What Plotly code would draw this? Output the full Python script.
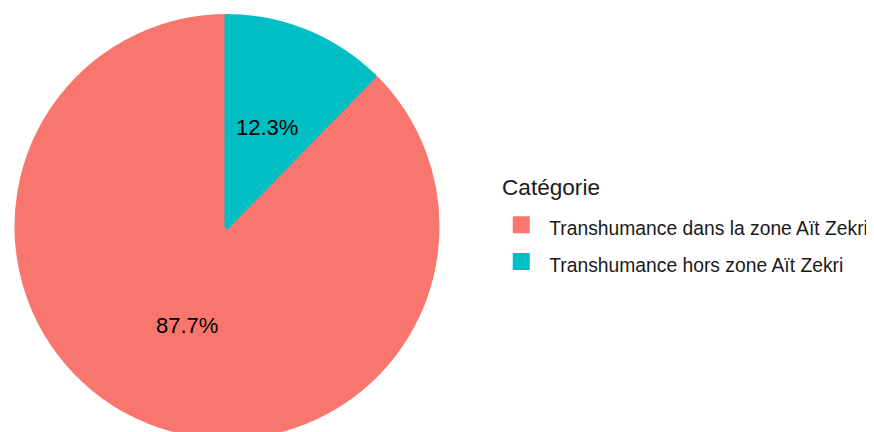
import math
import plotly.graph_objects as go

categories = ["Transhumance dans la zone Aït Zekri", "Transhumance hors zone Aït Zekri"]
values = [87.7, 12.3]
colors = ["#F8766D", "#00BFC4"]
legend_title = "Catégorie"

W, H = 874, 432
top = 5
plot_h = H - top
R = plot_h / 2
cx = 219
inset = 3.5
font = "Liberation Sans, Arial, sans-serif"

total = sum(values)
# first slice runs counterclockwise and ends where the last one starts
rotation = 360 * sum(values[1:]) / total

fig = go.Figure()
fig.add_trace(go.Pie(
    labels=[f'<span style="font-size:19.3px">{c}</span>' for c in categories],
    values=values,
    sort=False,
    direction="counterclockwise",
    rotation=rotation,
    marker=dict(colors=colors, line=dict(color=colors, width=5)),
    textinfo="none",
    hoverinfo="percent",
    domain=dict(x=[(cx - R + inset) / W, (cx + R - inset) / W],
                y=[inset / plot_h, 1 - inset / plot_h]),
))

# percent labels at half radius on each slice's mid angle
start = rotation + 360 * values[0] / total
annotations = []
for v in values:
    frac = v / total
    mid = math.radians(start - 180 * frac)
    start -= 360 * frac
    px = cx + 0.5 * R * math.sin(mid)
    up = 0.5 * R * math.cos(mid)
    annotations.append(dict(
        x=px / W, y=0.5 + up / plot_h, xref="paper", yref="paper",
        xanchor="center", yanchor="middle",
        text=f"{frac * 100:.1f}%", showarrow=False,
        font=dict(size=22, color="black", family=font),
    ))

annotations.append(dict(
    x=0.563, y=0.5925, xref="paper", yref="paper",
    xanchor="left", yanchor="middle", showarrow=False,
    text=legend_title, font=dict(size=22.6, color="#1a1a1a", family=font),
))

fig.update_layout(
    width=W, height=H,
    margin=dict(l=0, r=0, t=top, b=0),
    paper_bgcolor="white",
    plot_bgcolor="white",
    font=dict(family=font),
    annotations=annotations,
    legend=dict(
        x=0.5552, xanchor="left",
        y=0.4608, yanchor="middle",
        itemwidth=46,
        font=dict(size=26, color="#1a1a1a", family=font),
    ),
)

fig.write_html("out.html")
